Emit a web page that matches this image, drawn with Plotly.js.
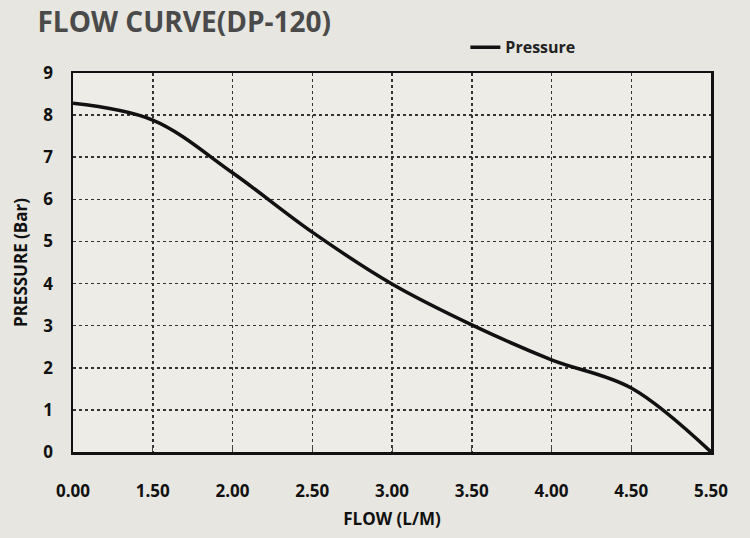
<!DOCTYPE html>
<html>
<head>
<meta charset="utf-8">
<script src="https://cdn.plot.ly/plotly-3.0.1.min.js"></script>
<style>html,body{margin:0;padding:0;background:#e7e6e0;}</style>
</head>
<body>
<div id="chart" style="width:750px;height:538px;"></div>
<script>
const flow = ['0.00', '1.50', '2.00', '2.50', '3.00', '3.50', '4.00', '4.50', '5.50'];
const pressure = [8.28, 7.88, 6.63, 5.22, 3.99, 3.02, 2.19, 1.52, 0];
const yTicks = [0, 1, 2, 3, 4, 5, 6, 7, 8, 9];

const font = "Open Sans, Lato, sans-serif";

Plotly.newPlot('chart', [{
  x: flow,
  y: pressure,
  type: 'scatter',
  mode: 'lines',
  name: 'Pressure',
  line: {color: '#111', width: 3.5, shape: 'spline', smoothing: 1.0}
}], {
  width: 750, height: 538,
  paper_bgcolor: '#e7e6e0',
  plot_bgcolor: '#edece6',
  margin: {l: 73, r: 39, t: 73, b: 86},
  title: {text: '<b>FLOW CURVE(DP-120)</b>', x: 0.05, xanchor: 'left', y: 0.958, yanchor: 'middle',
          font: {family: font, size: 28, color: '#4a4a4a'}},
  showlegend: true,
  legend: {x: 0.615, y: 1.068, xanchor: 'left', yanchor: 'middle', bgcolor: 'rgba(0,0,0,0)',
           font: {family: font, size: 16, color: '#222', weight: 'bold'}},
  xaxis: {
    type: 'category', range: [0, 8],
    showgrid: true, gridcolor: '#333', griddash: 'dot', gridwidth: 1.5,
    showline: true, linecolor: '#111', linewidth: 2.5, mirror: true,
    ticks: 'inside', ticklen: 7, tickcolor: '#444', tickwidth: 1,
    ticklabelstandoff: 22,
    tickfont: {family: font, size: 17, color: '#111', weight: 'bold'},
    title: {text: '<b>FLOW (L/M)</b>', standoff: 12, font: {family: font, size: 17, color: '#111'}},
    zeroline: false
  },
  yaxis: {
    range: [0, 9], tickvals: yTicks,
    showgrid: true, gridcolor: '#333', griddash: 'dot', gridwidth: 1.5,
    showline: true, linecolor: '#111', linewidth: 2.5, mirror: true,
    ticks: '', ticklabelstandoff: 14,
    tickfont: {family: font, size: 17, color: '#111', weight: 'bold'},
    title: {text: '<b>PRESSURE (Bar)</b>', standoff: 12, font: {family: font, size: 17, color: '#111'}},
    zeroline: false
  }
}, {staticPlot: true});
</script>
</body>
</html>
